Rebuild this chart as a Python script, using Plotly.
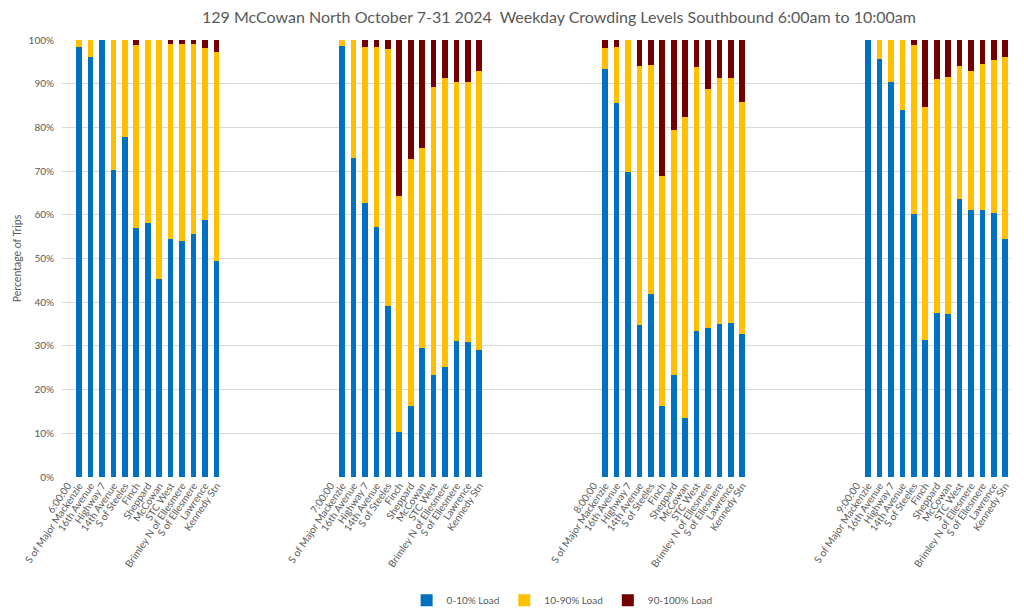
import plotly.graph_objects as go

# ---- data ----
times = ["6:00:00", "7:00:00", "8:00:00", "9:00:00"]
stops = ["S of Major Mackenzie", "16th Avenue", "Highway 7", "14th Avenue", "S of Steeles",
         "Finch", "Sheppard", "McCowan", "STC West", "Brimley N of Ellesmere",
         "S of Ellesmere", "Lawrence", "Kennedy Stn"]

low_6 = [98.3, 96.2, 100, 70.2, 77.7, 56.9, 58.2, 45.2, 54.5, 54.1, 55.7, 58.9, 49.5]
mid_6 = [1.7, 3.8, 0, 29.8, 22.3, 42.0, 41.8, 54.8, 44.5, 44.9, 43.3, 39.3, 47.8]
high_6 = [0, 0, 0, 0, 0, 1.1, 0, 0, 1.0, 1.0, 1.0, 1.8, 2.7]

low_7 = [98.7, 73.1, 62.7, 57.2, 39.2, 10.2, 16.3, 29.5, 23.4, 25.1, 31.2, 30.9, 29.1]
mid_7 = [1.3, 26.9, 35.8, 41.3, 58.7, 54.2, 56.4, 45.8, 65.9, 66.3, 59.1, 59.6, 63.7]
high_7 = [0, 0, 1.5, 1.5, 2.1, 35.6, 27.3, 24.7, 10.7, 8.6, 9.7, 9.5, 7.2]

low_8 = [93.4, 85.6, 69.8, 34.7, 41.8, 16.3, 23.4, 13.4, 33.4, 34.2, 34.9, 35.3, 32.7]
mid_8 = [4.8, 12.9, 30.2, 59.3, 52.4, 52.5, 56.1, 69.0, 60.5, 54.6, 56.5, 56.0, 53.2]
high_8 = [1.8, 1.5, 0, 6.0, 5.8, 31.2, 20.5, 17.6, 6.1, 11.2, 8.6, 8.7, 14.1]

low_9 = [100, 95.6, 90.4, 83.9, 60.2, 31.3, 37.6, 37.4, 63.7, 61.0, 61.0, 60.5, 54.5]
mid_9 = [0, 4.4, 9.6, 16.1, 38.7, 53.3, 53.5, 54.1, 30.3, 31.9, 33.6, 35.0, 41.7]
high_9 = [0, 0, 0, 0, 1.1, 15.4, 8.9, 8.5, 6.0, 7.1, 5.4, 4.5, 3.8]

series_names = ["0-10% Load", "10-90% Load", "90-100% Load"]
# ---------------

low_all = [low_6, low_7, low_8, low_9]
mid_all = [mid_6, mid_7, mid_8, mid_9]
high_all = [high_6, high_7, high_8, high_9]

GROUP_STEP = 23  # 14 labelled categories + 9 blank categories
tickvals, ticktext = [], []
xs, lows, mids, highs = [], [], [], []
for g, t in enumerate(times):
    base = g * GROUP_STEP
    tickvals.append(base)
    ticktext.append(t)
    for i, s in enumerate(stops):
        pos = base + 1 + i
        tickvals.append(pos)
        ticktext.append(s)
        xs.append(pos)
        lows.append(low_all[g][i])
        mids.append(mid_all[g][i])
        highs.append(high_all[g][i])

colors = ["#0070C0", "#FFC000", "#720000"]
fig = go.Figure()
for name, vals, c in zip(series_names, [lows, mids, highs], colors):
    fig.add_trace(go.Bar(x=xs, y=vals, name=name, marker=dict(color=c, line=dict(width=0))))

grey = "#595959"
FONT = "Lato, Open Sans, sans-serif"
# the page body adds an 8px margin, so the figure is sized to fit the 1024x611 window
fig.update_layout(
    barmode="stack",
    bargap=0.5,
    width=1016, height=603,
    margin=dict(l=54, r=13, t=32, b=134),
    paper_bgcolor="white", plot_bgcolor="white",
    font=dict(family=FONT, color=grey, size=10),
    title=dict(text="129 McCowan North October 7-31 2024&nbsp;&nbsp;Weekday Crowding Levels Southbound 6:00am to 10:00am",
               x=0.5423, xanchor="center", y=0.993, yanchor="top", automargin=False,
               pad=dict(t=0, b=0),
               font=dict(size=16, color=grey, family=FONT)),
    legend=dict(orientation="h", xref="paper", x=0.527, xanchor="center",
                yref="container", y=0.018, yanchor="middle",
                font=dict(size=10, color=grey, family=FONT), traceorder="normal"),
    xaxis=dict(range=[-0.5, 82.5], tickmode="array", tickvals=tickvals, ticktext=ticktext,
               tickangle=-56, showgrid=False, zeroline=False, showline=False, ticks="",
               automargin=False, tickfont=dict(size=10, color=grey, family=FONT)),
    yaxis=dict(range=[0, 100], dtick=10, ticksuffix="%", showgrid=True, gridcolor="#D9D9D9",
               gridwidth=1, zeroline=False, showline=False, ticks="", automargin=False,
               ticklabelstandoff=7,
               title=dict(text="Percentage of Trips", font=dict(size=10.5, color=grey, family=FONT), standoff=4),
               tickfont=dict(size=10, color=grey, family=FONT)),
)
fig.write_html("out.html")
